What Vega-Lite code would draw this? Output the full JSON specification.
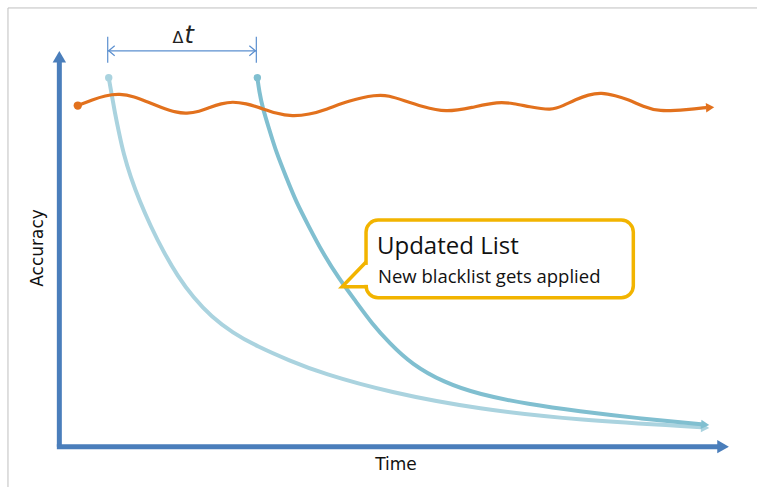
{
  "$schema": "https://vega.github.io/schema/vega-lite/v6.json",
  "width": 759,
  "height": 489,
  "autosize": {"type": "fit", "contains": "padding"},
  "padding": 0,
  "background": "white",
  "config": {"view": {"stroke": null}},
  "datasets": {
    "border": [
      {"i": 0, "x": 8, "y": 489},
      {"i": 1, "x": 8, "y": 8},
      {"i": 2, "x": 759, "y": 8}
    ],
    "axes": [
      {"g": "y", "i": 0, "x": 59.5, "y": 448.5},
      {"g": "y", "i": 1, "x": 59.5, "y": 62},
      {"g": "x", "i": 0, "x": 57, "y": 448.5},
      {"g": "x", "i": 1, "x": 720, "y": 448.5}
    ],
    "axisHeads": [
      {"s": "triangle-up", "x": 59.5, "y": 57},
      {"s": "triangle-right", "x": 725, "y": 448.5}
    ],
    "wave": [
      {"x": 78, "y": 106}, {"x": 93, "y": 100}, {"x": 105, "y": 96}, {"x": 120, "y": 94},
      {"x": 135, "y": 97}, {"x": 147, "y": 102}, {"x": 162, "y": 108}, {"x": 177, "y": 113},
      {"x": 187, "y": 114}, {"x": 200, "y": 112}, {"x": 210, "y": 108}, {"x": 222, "y": 104},
      {"x": 233, "y": 102}, {"x": 247, "y": 104}, {"x": 260, "y": 108}, {"x": 277, "y": 114},
      {"x": 293, "y": 117}, {"x": 310, "y": 115}, {"x": 327, "y": 110}, {"x": 350, "y": 101},
      {"x": 377, "y": 95}, {"x": 390, "y": 96}, {"x": 405, "y": 101}, {"x": 423, "y": 107},
      {"x": 447, "y": 113}, {"x": 473, "y": 108}, {"x": 500, "y": 102}, {"x": 515, "y": 104},
      {"x": 530, "y": 107}, {"x": 553, "y": 111}, {"x": 565, "y": 106}, {"x": 577, "y": 100},
      {"x": 590, "y": 95}, {"x": 603, "y": 93}, {"x": 617, "y": 96}, {"x": 630, "y": 100},
      {"x": 645, "y": 107}, {"x": 660, "y": 112}, {"x": 690, "y": 110}, {"x": 708, "y": 108}
    ],
    "waveEnds": [
      {"s": "circle", "x": 78, "y": 106, "size": 70, "angle": 0},
      {"s": "triangle-right", "x": 712, "y": 108, "size": 90, "angle": -3}
    ],
    "curves": [
      {"c": "c1", "x": 109, "y": 78}, {"c": "c1", "x": 112, "y": 95}, {"c": "c1", "x": 115, "y": 112},
      {"c": "c1", "x": 119, "y": 132}, {"c": "c1", "x": 124, "y": 155}, {"c": "c1", "x": 131, "y": 178},
      {"c": "c1", "x": 140, "y": 202}, {"c": "c1", "x": 151, "y": 227}, {"c": "c1", "x": 164, "y": 253},
      {"c": "c1", "x": 178, "y": 277}, {"c": "c1", "x": 194, "y": 299}, {"c": "c1", "x": 212, "y": 318},
      {"c": "c1", "x": 233, "y": 334}, {"c": "c1", "x": 258, "y": 348}, {"c": "c1", "x": 290, "y": 362},
      {"c": "c1", "x": 323, "y": 375}, {"c": "c1", "x": 390, "y": 394}, {"c": "c1", "x": 480, "y": 411},
      {"c": "c1", "x": 580, "y": 422}, {"c": "c1", "x": 703, "y": 429},
      {"c": "c2", "x": 258, "y": 78}, {"c": "c2", "x": 260, "y": 92}, {"c": "c2", "x": 263, "y": 107},
      {"c": "c2", "x": 270, "y": 130}, {"c": "c2", "x": 277, "y": 153}, {"c": "c2", "x": 287, "y": 178},
      {"c": "c2", "x": 297, "y": 203}, {"c": "c2", "x": 310, "y": 228}, {"c": "c2", "x": 323, "y": 253},
      {"c": "c2", "x": 340, "y": 280}, {"c": "c2", "x": 357, "y": 303}, {"c": "c2", "x": 373, "y": 325},
      {"c": "c2", "x": 390, "y": 344}, {"c": "c2", "x": 413, "y": 366}, {"c": "c2", "x": 445, "y": 384},
      {"c": "c2", "x": 480, "y": 396}, {"c": "c2", "x": 530, "y": 406}, {"c": "c2", "x": 580, "y": 413},
      {"c": "c2", "x": 640, "y": 420}, {"c": "c2", "x": 703, "y": 426}
    ],
    "curveEnds": [
      {"c": "c1", "s": "circle", "x": 109, "y": 78, "size": 55, "angle": 0},
      {"c": "c2", "s": "circle", "x": 258, "y": 78, "size": 55, "angle": 0},
      {"c": "c1", "s": "triangle-right", "x": 707, "y": 429.5, "size": 90, "angle": 3},
      {"c": "c2", "s": "triangle-right", "x": 707, "y": 426.5, "size": 90, "angle": 5}
    ],
    "dim": [
      {"g": "l", "i": 0, "x": 108, "y": 37}, {"g": "l", "i": 1, "x": 108, "y": 63},
      {"g": "r", "i": 0, "x": 257, "y": 37}, {"g": "r", "i": 1, "x": 257, "y": 63},
      {"g": "h", "i": 0, "x": 108, "y": 51}, {"g": "h", "i": 1, "x": 257, "y": 51},
      {"g": "al", "i": 0, "x": 115, "y": 46}, {"g": "al", "i": 1, "x": 109, "y": 51}, {"g": "al", "i": 2, "x": 115, "y": 56},
      {"g": "ar", "i": 0, "x": 250, "y": 46}, {"g": "ar", "i": 1, "x": 256, "y": 51}, {"g": "ar", "i": 2, "x": 250, "y": 56}
    ],
    "box": [
      {"x": 367, "x2": 635, "y": 221, "y2": 299}
    ],
    "cover": [
      {"i": 0, "x": 367, "y": 266}, {"i": 1, "x": 367, "y": 286}
    ],
    "pointer": [
      {"i": 0, "x": 367, "y": 263}, {"i": 1, "x": 343, "y": 288}, {"i": 2, "x": 369, "y": 288}
    ]
  },
  "encoding": {
    "x": {"field": "x", "type": "quantitative", "scale": {"domain": [0, 759], "nice": false, "zero": false}, "axis": null},
    "y": {"field": "y", "type": "quantitative", "scale": {"domain": [0, 489], "nice": false, "zero": false, "reverse": true}, "axis": null}
  },
  "layer": [
    {
      "data": {"name": "border"},
      "mark": {"type": "line", "stroke": "#bfbfbf", "strokeWidth": 1},
      "encoding": {"order": {"field": "i", "type": "quantitative"}}
    },
    {
      "data": {"name": "dim"},
      "mark": {"type": "line", "stroke": "#5b8fcf", "strokeWidth": 1.2},
      "encoding": {"detail": {"field": "g"}, "order": {"field": "i", "type": "quantitative"}}
    },
    {
      "data": {"values": [{"x": 184, "y": 43, "t": "Δ"}]},
      "mark": {"type": "text", "font": "DejaVu Sans", "fontSize": 16, "align": "right", "baseline": "alphabetic", "color": "#222222"},
      "encoding": {"text": {"field": "t"}}
    },
    {
      "data": {"values": [{"x": 185, "y": 43, "t": "t"}]},
      "mark": {"type": "text", "font": "DejaVu Sans", "fontSize": 24, "fontStyle": "italic", "align": "left", "baseline": "alphabetic", "color": "#222222"},
      "encoding": {"text": {"field": "t"}}
    },
    {
      "data": {"name": "axes"},
      "mark": {"type": "line", "stroke": "#4a7ebb", "strokeWidth": 5, "strokeCap": "butt"},
      "encoding": {"detail": {"field": "g"}, "order": {"field": "i", "type": "quantitative"}}
    },
    {
      "data": {"name": "axisHeads"},
      "mark": {"type": "point", "filled": true, "color": "#4a7ebb", "opacity": 1, "size": 180},
      "encoding": {"shape": {"field": "s", "type": "nominal", "scale": null}}
    },
    {
      "data": {"name": "curves"},
      "mark": {"type": "line", "strokeWidth": 4, "interpolate": "basis", "strokeCap": "round"},
      "encoding": {
        "color": {"field": "c", "type": "nominal", "scale": {"domain": ["c1", "c2"], "range": ["#aad3df", "#80bfd0"]}, "legend": null}
      }
    },
    {
      "data": {"name": "curveEnds"},
      "mark": {"type": "point", "filled": true, "opacity": 1},
      "encoding": {
        "color": {"field": "c", "type": "nominal", "scale": {"domain": ["c1", "c2"], "range": ["#aad3df", "#80bfd0"]}, "legend": null},
        "shape": {"field": "s", "type": "nominal", "scale": null},
        "size": {"field": "size", "type": "quantitative", "scale": null},
        "angle": {"field": "angle", "type": "quantitative", "scale": null}
      }
    },
    {
      "data": {"name": "wave"},
      "mark": {"type": "line", "stroke": "#e2711d", "strokeWidth": 3.2, "interpolate": "basis"}
    },
    {
      "data": {"name": "waveEnds"},
      "mark": {"type": "point", "filled": true, "color": "#e2711d", "opacity": 1},
      "encoding": {
        "shape": {"field": "s", "type": "nominal", "scale": null},
        "size": {"field": "size", "type": "quantitative", "scale": null},
        "angle": {"field": "angle", "type": "quantitative", "scale": null}
      }
    },
    {
      "data": {"name": "box"},
      "mark": {"type": "rect", "fill": "white", "stroke": "#f2b400", "strokeWidth": 3.5, "cornerRadius": 12},
      "encoding": {"x2": {"field": "x2"}, "y2": {"field": "y2"}}
    },
    {
      "data": {"name": "cover"},
      "mark": {"type": "line", "stroke": "white", "strokeWidth": 6, "strokeCap": "butt"},
      "encoding": {"order": {"field": "i", "type": "quantitative"}}
    },
    {
      "data": {"name": "pointer"},
      "mark": {"type": "line", "stroke": "#f2b400", "strokeWidth": 3.5, "strokeJoin": "miter"},
      "encoding": {"order": {"field": "i", "type": "quantitative"}}
    },
    {
      "data": {"values": [{"x": 378, "y": 255, "t": "Updated List"}]},
      "mark": {"type": "text", "font": "Open Sans", "fontSize": 24, "align": "left", "baseline": "alphabetic", "color": "#111111"},
      "encoding": {"text": {"field": "t"}}
    },
    {
      "data": {"values": [{"x": 379, "y": 284, "t": "New blacklist gets applied"}]},
      "mark": {"type": "text", "font": "Open Sans", "fontSize": 18.5, "align": "left", "baseline": "alphabetic", "color": "#111111"},
      "encoding": {"text": {"field": "t"}}
    },
    {
      "data": {"values": [{"x": 43, "y": 249, "t": "Accuracy"}]},
      "mark": {"type": "text", "font": "DejaVu Sans", "fontSize": 17, "angle": 270, "align": "center", "baseline": "alphabetic", "color": "#111111"},
      "encoding": {"text": {"field": "t"}}
    },
    {
      "data": {"values": [{"x": 397, "y": 472, "t": "Time"}]},
      "mark": {"type": "text", "font": "DejaVu Sans", "fontSize": 17, "align": "center", "baseline": "alphabetic", "color": "#111111"},
      "encoding": {"text": {"field": "t"}}
    }
  ]
}
